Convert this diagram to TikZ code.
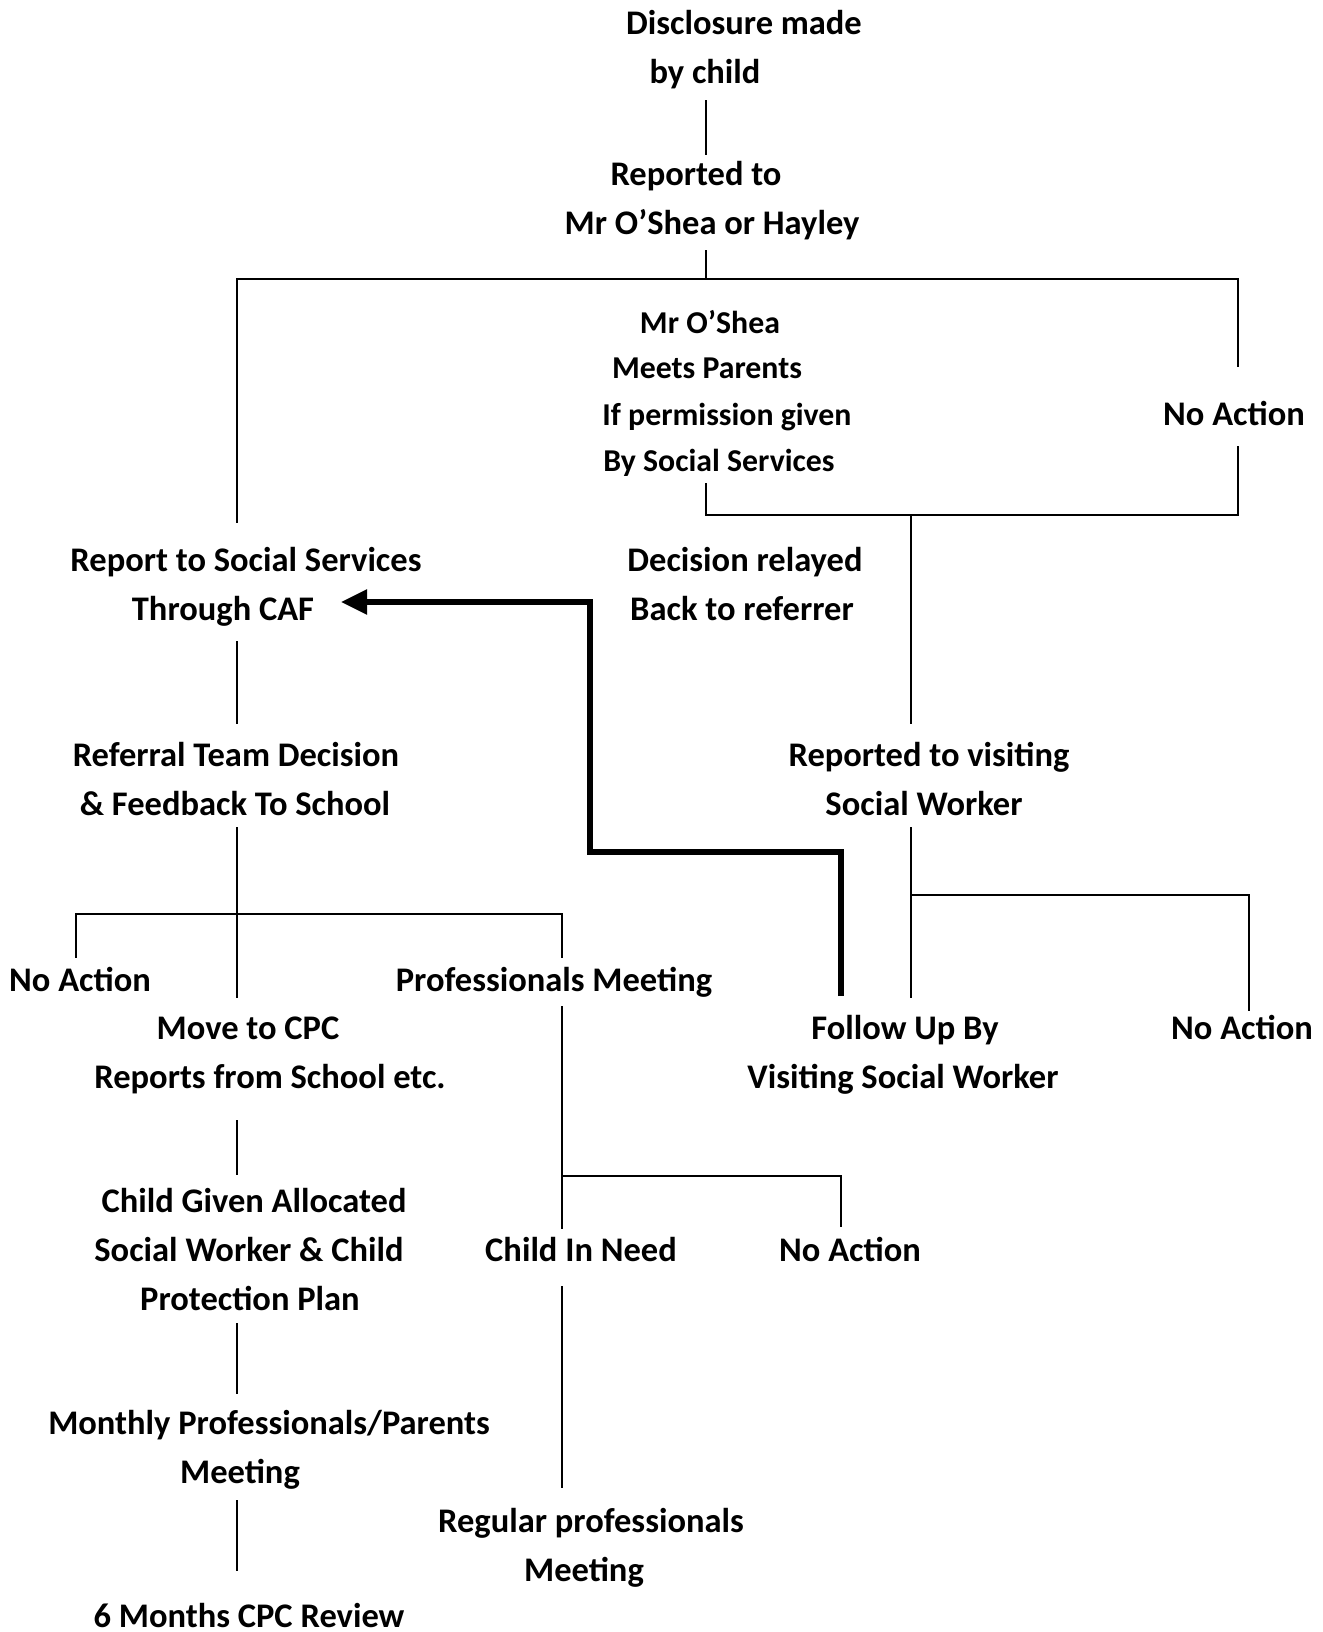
\documentclass[tikz,border=0pt]{standalone}
\usepackage{fontspec}
\setmainfont{Carlito}
\usetikzlibrary{arrows.meta}
\begin{document}
\begin{tikzpicture}[x=0.5pt,y=-0.5pt,
  lbl/.style={font=\bfseries\fontsize{17.25}{20}\selectfont, inner sep=0pt, anchor=base},
  slbl/.style={lbl, font=\bfseries\fontsize{15.9}{19}\selectfont},
  conn/.style={line width=0.8pt, line cap=rect},
  bigarrow/.style={line width=2.6pt, -{Triangle[length=13pt,width=12pt]}}]
\useasboundingbox (0,0) rectangle (1322,1632);

% ---------- text nodes ----------
\node[lbl] (d1) at (744,35) {Disclosure made};
\node[lbl] (d2) at (705,84) {by child};
\node[lbl] (r1) at (696,185) {Reported to};
\node[lbl] (r2) at (712,234) {Mr O’Shea or Hayley};
\node[slbl] (m1) at (710,333) {Mr O’Shea};
\node[slbl] (m2) at (707,378) {Meets Parents};
\node[slbl] (m3) at (727,425) {If permission given};
\node[slbl] (m4) at (719,471) {By Social Services};
\node[lbl] (na1) at (1234,425) {No Action};
\node[lbl] (ss1) at (246,571) {Report to Social Services};
\node[lbl] (ss2) at (223,620) {Through CAF};
\node[lbl] (dr1) at (745,571) {Decision relayed};
\node[lbl] (dr2) at (742,620) {Back to referrer};
\node[lbl] (rt1) at (236,766) {Referral Team Decision};
\node[lbl] (rt2) at (235,815) {\& Feedback To School};
\node[lbl] (rv1) at (929,766) {Reported to visiting};
\node[lbl] (rv2) at (924,815) {Social Worker};
\node[lbl] (na2) at (80,991) {No Action};
\node[lbl] (pm) at (554,991) {Professionals Meeting};
\node[lbl] (cpc1) at (248,1039) {Move to CPC};
\node[lbl] (cpc2) at (270,1088) {Reports from School etc.};
\node[lbl] (fu1) at (905,1039) {Follow Up By};
\node[lbl] (fu2) at (903,1088) {Visiting Social Worker};
\node[lbl] (na3) at (1242,1039) {No Action};
\node[lbl] (cg1) at (254,1212) {Child Given Allocated};
\node[lbl] (cg2) at (249,1261) {Social Worker \& Child};
\node[lbl] (cg3) at (250,1310) {Protection Plan};
\node[lbl] (cin) at (581,1261) {Child In Need};
\node[lbl] (na4) at (850,1261) {No Action};
\node[lbl] (mp1) at (269,1434) {Monthly Professionals/Parents};
\node[lbl] (mp2) at (240,1483) {Meeting};
\node[lbl] (rp1) at (591,1532) {Regular professionals};
\node[lbl] (rp2) at (584,1581) {Meeting};
\node[lbl] (cr) at (249,1627) {6 Months CPC Review};

% ---------- junction coordinates ----------
\coordinate (c1t) at (706,101);  \coordinate (c1b) at (706,154);
\coordinate (c2t) at (706,251);  \coordinate (c2j) at (706,279);
\coordinate (hL) at (237,279);   \coordinate (hR) at (1238,279);
\coordinate (hLb) at (237,522);  \coordinate (hRb) at (1238,366);
\coordinate (nat) at (1238,447); \coordinate (nab) at (1238,515);
\coordinate (mst) at (706,484);  \coordinate (msb) at (706,515);
\coordinate (j2) at (911,515);   \coordinate (j2b) at (911,723);
\coordinate (s1t) at (237,642);  \coordinate (s1b) at (237,723);
\coordinate (s2t) at (237,828);  \coordinate (s2b) at (237,997);
\coordinate (s2j) at (237,914);
\coordinate (bL) at (76,914);    \coordinate (bLb) at (76,957);
\coordinate (bR) at (562,914);   \coordinate (bRb) at (562,957);
\coordinate (p1t) at (562,1007); \coordinate (p1j) at (562,1176);
\coordinate (p1b) at (562,1228);
\coordinate (pR) at (841,1176);  \coordinate (pRb) at (841,1226);
\coordinate (v1t) at (911,828);  \coordinate (v1b) at (911,997);
\coordinate (v1j) at (911,895);
\coordinate (vR) at (1249,895);  \coordinate (vRb) at (1249,1010);
\coordinate (s3t) at (237,1121); \coordinate (s3b) at (237,1174);
\coordinate (s4t) at (237,1324); \coordinate (s4b) at (237,1393);
\coordinate (ct) at (562,1287);  \coordinate (cb) at (562,1487);
\coordinate (s5t) at (237,1501); \coordinate (s5b) at (237,1570);
\coordinate (a0) at (841,996);   \coordinate (a1) at (841,852);
\coordinate (a2) at (590,852);   \coordinate (a3) at (590,602);
\coordinate (a4) at (341,602);

% ---------- connectors ----------
\draw[conn] (c1t) -- (c1b);
\draw[conn] (c2t) -- (c2j);
\draw[conn] (hLb) -- (hL) -- (hR) -- (hRb);
\draw[conn] (nat) -- (nab) -- (msb) -- (mst);
\draw[conn] (j2) -- (j2b);
\draw[conn] (s1t) -- (s1b);
\draw[conn] (s2t) -- (s2b);
\draw[conn] (bLb) -- (bL) -- (bR) -- (bRb);
\draw[conn] (p1t) -- (p1b);
\draw[conn] (p1j) -- (pR) -- (pRb);
\draw[conn] (v1t) -- (v1b);
\draw[conn] (v1j) -- (vR) -- (vRb);
\draw[conn] (s3t) -- (s3b);
\draw[conn] (s4t) -- (s4b);
\draw[conn] (ct) -- (cb);
\draw[conn] (s5t) -- (s5b);
\draw[bigarrow] (a0) -- (a1) -- (a2) -- (a3) -- (a4);
\end{tikzpicture}
\end{document}
